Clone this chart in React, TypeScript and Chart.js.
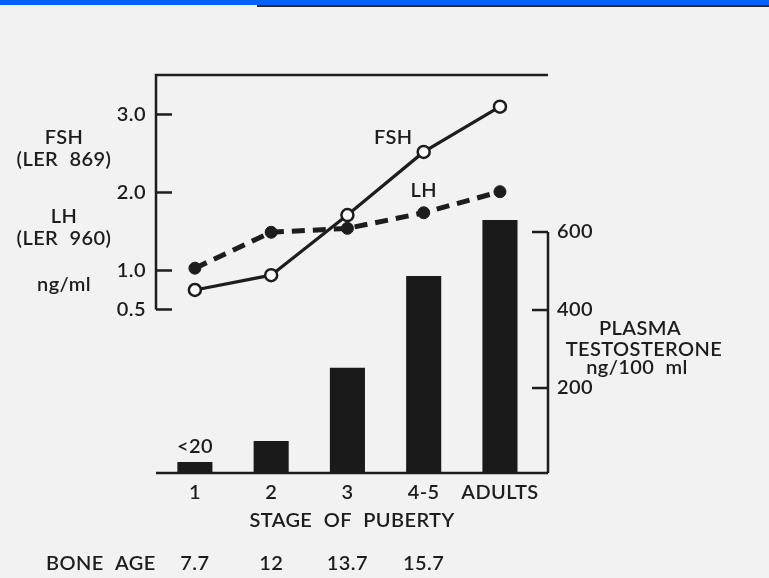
import React, { useEffect, useRef } from 'react';
import { Chart, registerables } from 'chart.js';

Chart.register(...registerables);

// ---- data ----
const STAGES = ['1', '2', '3', '4-5', 'ADULTS'];
const STAGE_X = [1, 2, 3, 4, 5];
const FSH = [0.75, 0.94, 1.71, 2.52, 3.1];
const LH = [1.03, 1.49, 1.54, 1.74, 2.01];
const TESTOSTERONE = [10, 64, 252, 487, 631];
const BONE_AGE = ['7.7', '12', '13.7', '15.7'];
const LEFT_TICKS = [0.5, 1.0, 2.0, 3.0];
const RIGHT_TICKS = [200, 400, 600];
const LEFT_LABELS = ['FSH', '(LER 869)', 'LH', '(LER 960)', 'ng/ml'];
const RIGHT_LABELS = ['PLASMA', 'TESTOSTERONE', 'ng/100 ml'];

// ---- styles ----
const FONT = 'Lato, "DejaVu Sans", sans-serif';
const INK = '#1d1d1d';
const FS = 20;
const FW = '600';

const spacing = {
  id: 'spacing',
  beforeDraw(chart: any) {
    const ctx = chart.ctx;
    ctx.wordSpacing = '6px';
    ctx.letterSpacing = '0.4px';
  },
};

const decor = {
  id: 'decor',
  afterDatasetsDraw(chart: any) {
    const { ctx, chartArea: ca, scales } = chart;
    const xs = scales.x;
    const yL = scales.yL;
    const yR = scales.yR;
    ctx.save();
    ctx.strokeStyle = INK;
    ctx.lineWidth = 2.5;
    ctx.lineCap = 'butt';
    ctx.lineJoin = 'miter';

    // top frame + left axis
    const yHalf = yL.getPixelForValue(LEFT_TICKS[0]);
    ctx.beginPath();
    ctx.moveTo(ca.right, ca.top);
    ctx.lineTo(ca.left, ca.top);
    ctx.lineTo(ca.left, yHalf);
    ctx.stroke();
    LEFT_TICKS.forEach((v) => {
      const py = yL.getPixelForValue(v);
      ctx.beginPath();
      ctx.moveTo(ca.left, py);
      ctx.lineTo(ca.left + 16, py);
      ctx.stroke();
    });

    // right axis
    const yTop = yR.getPixelForValue(RIGHT_TICKS[RIGHT_TICKS.length - 1]);
    ctx.beginPath();
    ctx.moveTo(ca.right, yTop);
    ctx.lineTo(ca.right, ca.bottom);
    ctx.stroke();
    RIGHT_TICKS.forEach((v) => {
      const py = yR.getPixelForValue(v);
      ctx.beginPath();
      ctx.moveTo(ca.right, py);
      ctx.lineTo(ca.right - 16, py);
      ctx.stroke();
    });

    // bottom axis
    ctx.beginPath();
    ctx.moveTo(ca.left, ca.bottom);
    ctx.lineTo(ca.right, ca.bottom);
    ctx.stroke();

    // texts
    ctx.fillStyle = INK;
    ctx.font = `${FW} ${FS}px ${FONT}`;
    ctx.textAlign = 'center';
    ctx.textBaseline = 'middle';

    const leftCx = 64;
    const leftYs = [138, 160, 217, 239, 285];
    LEFT_LABELS.forEach((t, i) => ctx.fillText(t, leftCx, leftYs[i]));

    const rightCx = [640, 644, 637];
    const rightYs = [329, 350, 368];
    RIGHT_LABELS.forEach((t, i) => ctx.fillText(t, rightCx[i], rightYs[i]));

    // series labels
    ctx.fillText('FSH', xs.getPixelForValue(3.6), yL.getPixelForValue(2.7));
    ctx.fillText('LH', xs.getPixelForValue(4.0), yL.getPixelForValue(2.02));

    // <20 label above first bar
    ctx.fillText('<20', xs.getPixelForValue(STAGE_X[0]), yR.getPixelForValue(TESTOSTERONE[0]) - 16);

    // x axis title
    ctx.fillText('STAGE OF PUBERTY', (ca.left + ca.right) / 2, ca.bottom + 48);

    // bone age row
    const boneY = ca.bottom + 91;
    ctx.textAlign = 'left';
    ctx.fillText('BONE AGE', 46, boneY);
    ctx.textAlign = 'center';
    BONE_AGE.forEach((t, i) => ctx.fillText(t, xs.getPixelForValue(STAGE_X[i]), boneY));

    ctx.restore();
  },
};

export default function App() {
  const ref = useRef<HTMLCanvasElement | null>(null);

  useEffect(() => {
    if (!ref.current) return;
    const tickFont = { family: FONT, size: FS, weight: FW };
    const chart = new Chart(ref.current, {
      type: 'bar',
      data: {
        datasets: [
          {
            type: 'line',
            label: 'FSH',
            yAxisID: 'yL',
            data: STAGE_X.map((x, i) => ({ x, y: FSH[i] })),
            borderColor: INK,
            borderWidth: 3.2,
            pointRadius: 6,
            pointBorderWidth: 2.5,
            pointBackgroundColor: '#fafafa',
            pointBorderColor: INK,
            tension: 0,
            fill: false,
            order: 0,
          } as any,
          {
            type: 'line',
            label: 'LH',
            yAxisID: 'yL',
            data: STAGE_X.map((x, i) => ({ x, y: LH[i] })),
            borderColor: INK,
            borderWidth: 5,
            borderDash: [13, 8],
            pointRadius: 6,
            pointBorderWidth: 1,
            pointBackgroundColor: INK,
            pointBorderColor: INK,
            tension: 0,
            fill: false,
            order: 1,
          } as any,
          {
            type: 'bar',
            label: 'Testosterone',
            yAxisID: 'yR',
            data: STAGE_X.map((x, i) => ({ x, y: TESTOSTERONE[i] })),
            backgroundColor: '#1a1a1a',
            borderWidth: 0,
            barPercentage: 0.46,
            categoryPercentage: 1,
            base: -18,
            order: 2,
          } as any,
        ],
      },
      options: {
        animation: false,
        responsive: false,
        maintainAspectRatio: false,
        devicePixelRatio: 1,
        layout: { padding: { top: 75, left: 0, right: 0, bottom: 0 } },
        plugins: { legend: { display: false }, tooltip: { enabled: false } },
        scales: {
          x: {
            type: 'linear',
            position: 'bottom',
            min: 0.49,
            max: 5.63,
            offset: false,
            grid: { display: false, drawTicks: false, offset: false },
            border: { display: false },
            afterBuildTicks: (s: any) => {
              s.ticks = STAGE_X.map((v) => ({ value: v }));
            },
            afterFit: (s: any) => {
              s.height = 105;
            },
            ticks: {
              autoSkip: false,
              maxRotation: 0,
              padding: 8,
              color: INK,
              font: tickFont,
              callback: (v: any) => STAGES[STAGE_X.indexOf(Number(v))] ?? '',
            },
          },
          yL: {
            type: 'linear',
            position: 'left',
            min: -1.596,
            max: 3.506,
            grid: { display: false, drawTicks: false },
            border: { display: false },
            afterBuildTicks: (s: any) => {
              s.ticks = LEFT_TICKS.map((v) => ({ value: v }));
            },
            afterFit: (s: any) => {
              s.width = 156;
            },
            ticks: {
              padding: 10,
              color: INK,
              font: tickFont,
              callback: (v: any) => Number(v).toFixed(1),
            },
          },
          yR: {
            type: 'linear',
            position: 'right',
            min: -17.9,
            max: 1002.6,
            grid: { display: false, drawTicks: false },
            border: { display: false },
            afterBuildTicks: (s: any) => {
              s.ticks = RIGHT_TICKS.map((v) => ({ value: v }));
            },
            afterFit: (s: any) => {
              s.width = 221;
            },
            ticks: {
              padding: 9,
              color: INK,
              font: tickFont,
              callback: (v: any) => String(v),
            },
          },
        },
      },
      plugins: [spacing, decor],
    } as any);
    return () => chart.destroy();
  }, []);

  return (
    <div
      style={{
        position: 'fixed',
        left: 0,
        top: 0,
        width: 769,
        height: 578,
        background: '#f2f2f2',
        overflow: 'hidden',
      }}
    >
      <div style={{ position: 'absolute', left: 0, top: 0, width: 769, height: 5, background: '#0461fb' }} />
      <div style={{ position: 'absolute', left: 257, top: 5, width: 512, height: 2, background: '#2a2a2a' }} />
      <canvas ref={ref} width={769} height={578} style={{ position: 'absolute', left: 0, top: 0 }} />
    </div>
  );
}
